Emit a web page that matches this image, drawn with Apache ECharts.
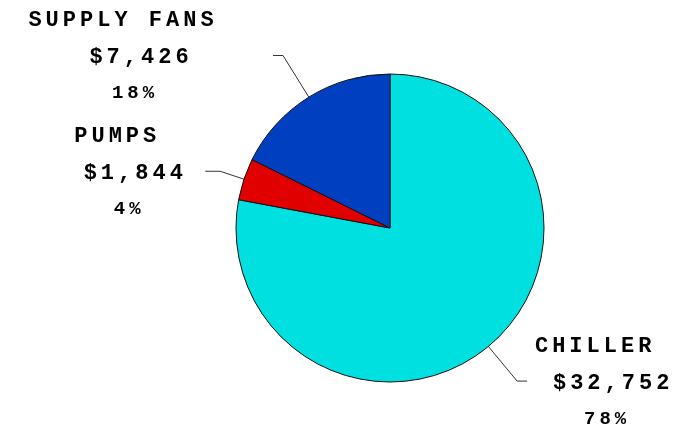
<!DOCTYPE html>
<html><head><meta charset="utf-8">
<script src="https://cdn.jsdelivr.net/npm/echarts@6/dist/echarts.min.js"></script>
<style>html,body{margin:0;background:#fff}#c{width:684px;height:425px}</style>
</head><body><div id="c"></div>
<script>
const categories = ['CHILLER', 'PUMPS', 'SUPPLY FANS'];
const costs = [32752, 1844, 7426];
const percents = [78, 4, 18];
const colors = ['#00E0E0', '#E00000', '#0040C0'];
// label-line styling per slice
const lineLen = [45, 25, 49];
const lineLen2 = [10, 15, 10];
const labelShift = [86, -70, -132];

// wide letter spacing for the typewriter-style labels
(function () {
  const proto = CanvasRenderingContext2D.prototype;
  const desc = Object.getOwnPropertyDescriptor(proto, 'font');
  if (!desc || !('letterSpacing' in proto)) return;
  Object.defineProperty(proto, 'font', {
    configurable: true,
    get() { return desc.get.call(this); },
    set(v) {
      desc.set.call(this, v);
      const m = /(\d+)px/.exec(v);
      this.letterSpacing = (/Mono/.test(v) && m ? Math.round(m[1] * 0.2) : 0) + 'px';
    }
  });
})();

const FONT = 'Liberation Mono';
const data = categories.map((n, i) => ({
  name: n,
  value: costs[i],
  itemStyle: { color: colors[i] },
  labelLine: { length: lineLen[i], length2: lineLen2[i] }
}));

const chart = echarts.init(document.getElementById('c'), null, { renderer: 'canvas' });
chart.setOption({
  animation: false,
  backgroundColor: '#ffffff',
  series: [{
    type: 'pie',
    center: [390, 228],
    radius: 154,
    startAngle: 90,
    clockwise: true,
    avoidLabelOverlap: false,
    emphasis: { disabled: true },
    itemStyle: { borderColor: '#111', borderWidth: 1 },
    labelLine: { show: true, smooth: false, lineStyle: { color: '#333', width: 1 } },
    label: {
      show: true,
      position: 'outside',
      color: '#000',
      fontFamily: FONT,
      fontWeight: 'bold',
      formatter: p => '{n|' + p.name + '}\n{v|$' + p.value.toLocaleString('en-US') + '}\n{p|' + percents[p.dataIndex] + '%}',
      rich: {
        n: { fontFamily: FONT, fontWeight: 'bold', fontSize: 22, lineHeight: 37, align: 'center', padding: [0, 36, 0, 0], color: '#000' },
        v: { fontFamily: FONT, fontWeight: 'bold', fontSize: 22, lineHeight: 37, align: 'center', color: '#000' },
        p: { fontFamily: FONT, fontWeight: 'bold', fontSize: 19, lineHeight: 35, align: 'center', padding: [0, 12, 0, 0], color: '#000' }
      }
    },
    labelLayout: function (params) {
      const pts = params.labelLinePoints;
      const end = pts[pts.length - 1];
      return {
        x: end[0] + labelShift[params.dataIndex],
        y: end[1] + 1,
        align: 'center',
        verticalAlign: 'middle',
        labelLinePoints: pts
      };
    },
    data: data
  }]
});
</script></body></html>
